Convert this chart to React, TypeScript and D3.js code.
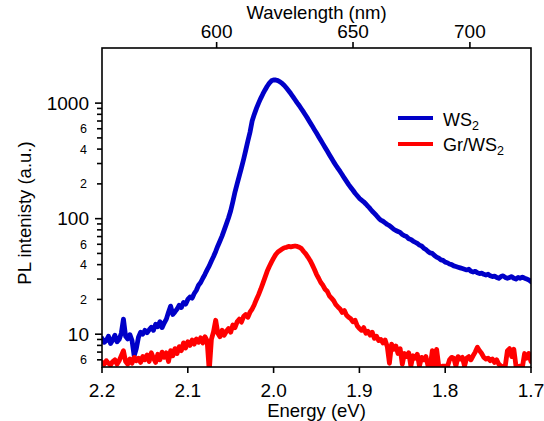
import React from "react";
import * as d3 from "d3";

// Energy grid (eV)
const energy: number[] = [
  2.2, 2.1975, 2.195, 2.1925, 2.19, 2.1875, 2.185, 2.1825, 2.18, 2.1775,
  2.175, 2.1725, 2.17, 2.1675, 2.165, 2.1625, 2.16, 2.1575, 2.155, 2.1525,
  2.15, 2.1475, 2.145, 2.1425, 2.14, 2.1375, 2.135, 2.1325, 2.13, 2.1275,
  2.125, 2.1225, 2.12, 2.1175, 2.115, 2.1125, 2.11, 2.1075, 2.105, 2.1025,
  2.1, 2.0975, 2.095, 2.0925, 2.09, 2.0875, 2.085, 2.0825, 2.08, 2.0775,
  2.075, 2.0725, 2.07, 2.0675, 2.065, 2.0625, 2.06, 2.0575, 2.055, 2.0525,
  2.05, 2.0475, 2.045, 2.0425, 2.04, 2.0375, 2.035, 2.0325, 2.03, 2.0275,
  2.025, 2.0225, 2.02, 2.0175, 2.015, 2.0125, 2.01, 2.0075, 2.005, 2.0025,
  2.0, 1.9975, 1.995, 1.9925, 1.99, 1.9875, 1.985, 1.9825, 1.98, 1.9775,
  1.975, 1.9725, 1.97, 1.9675, 1.965, 1.9625, 1.96, 1.9575, 1.955, 1.9525,
  1.95, 1.9475, 1.945, 1.9425, 1.94, 1.9375, 1.935, 1.9325, 1.93, 1.9275,
  1.925, 1.9225, 1.92, 1.9175, 1.915, 1.9125, 1.91, 1.9075, 1.905, 1.9025,
  1.9, 1.8975, 1.895, 1.8925, 1.89, 1.8875, 1.885, 1.8825, 1.88, 1.8775,
  1.875, 1.8725, 1.87, 1.8675, 1.865, 1.8625, 1.86, 1.8575, 1.855, 1.8525,
  1.85, 1.8475, 1.845, 1.8425, 1.84, 1.8375, 1.835, 1.8325, 1.83, 1.8275,
  1.825, 1.8225, 1.82, 1.8175, 1.815, 1.8125, 1.81, 1.8075, 1.805, 1.8025,
  1.8, 1.7975, 1.795, 1.7925, 1.79, 1.7875, 1.785, 1.7825, 1.78, 1.7775,
  1.775, 1.7725, 1.77, 1.7675, 1.765, 1.7625, 1.76, 1.7575, 1.755, 1.7525,
  1.75, 1.7475, 1.745, 1.7425, 1.74, 1.7375, 1.735, 1.7325, 1.73, 1.7275,
  1.725, 1.7225, 1.72, 1.7175, 1.715, 1.7125, 1.71, 1.7075, 1.705, 1.7025,
  1.7,
];

// PL intensity of WS2 (a.u.)
const ws2: number[] = [
  9.2, 8.5, 8.8, 9.6, 8.3, 8.9, 9.8, 8.6, 9.0, 10.2,
  13.5, 9.6, 9.1, 9.9, 8.8, 6.5, 7.5, 9.4, 10.4, 10.0,
  10.8, 10.3, 10.9, 11.5, 10.8, 12.2, 11.6, 12.8, 11.4, 12.5,
  13.5, 15.5, 17.5, 14.8, 15.6, 16.5, 17.8, 17.0, 18.8, 18.2,
  20.0, 21, 20.5, 22.5, 24, 26.5, 28, 30.5, 33, 36,
  39, 43, 47, 52, 58, 64, 71, 80, 90, 102,
  117, 140, 170, 200, 235, 275, 325, 390, 470, 560,
  700, 800, 900, 1000, 1100, 1200, 1300, 1400, 1490, 1560,
  1590, 1585, 1565, 1530, 1480, 1420, 1350, 1280, 1210, 1140,
  1070, 1005, 950, 890, 835, 780, 730, 680, 635, 590,
  550, 512, 477, 444, 413, 385, 358, 333, 310, 290,
  272, 256, 240, 224, 210, 197, 186, 176, 166, 158,
  150, 145, 140, 134, 128, 122, 116, 111, 106, 101,
  97, 95, 92, 89, 87, 84, 81, 79, 77.5, 76,
  73, 71, 70, 67, 66, 64, 62.5, 61, 59, 58,
  55.5, 54, 52, 50.5, 50, 48, 46.5, 45.5, 44, 43.5,
  42, 41.5, 40.5, 40, 39, 38.5, 38, 37.5, 37, 36.5,
  36, 36.5, 35, 34.5, 35, 34, 33.5, 33.8, 33, 32.5,
  33, 32, 31.5, 31.8, 31, 30.5, 31.5, 32, 31, 30.5,
  31, 31.5, 30.5, 30, 31, 30.5, 31.2, 30.5, 30, 29.5,
  28.5,
];

// PL intensity of Gr/WS2 (a.u.)
const grws2: number[] = [
  5.7, 5.5, 5.9, 5.6, 5.4, 5.8, 6.0, 5.5, 5.9, 6.5,
  7.2, 5.8, 5.5, 6.1, 5.6, 6.3, 5.9, 6.2, 5.7, 6.4,
  6.0, 6.6, 5.8, 6.9, 6.2, 5.7, 6.7, 6.0, 7.0, 6.3,
  6.9, 5.8, 7.2, 6.5, 7.5, 6.8, 7.8, 7.2, 8.4, 7.6,
  8.6, 8.0, 8.9, 8.2, 9.1, 8.5, 9.3, 8.4, 9.5, 8.8,
  4.8, 9.0, 10.5, 13.2, 10.2, 9.5, 10.8, 9.8, 10.6, 11.2,
  10.4, 12.0, 11.4, 12.8, 13.5, 12.7, 14.2, 14.8, 14.0, 15.5,
  16.5, 18, 20, 22, 24.5, 27.5, 31, 35, 38.5, 42,
  45.5, 49, 51.5, 53, 54.5, 56, 56.5, 57.5, 57, 57.5,
  58, 57.5, 56.5, 55, 52, 49.5, 46.5, 43.5, 40, 36.5,
  33, 30.5, 28, 26.5, 24.5, 23.5, 21.5, 20.5, 19.5, 18,
  17.2, 16.5, 15.4, 16.0, 14.6, 14.0, 13.6, 12.8, 13.2, 11.8,
  11.2, 10.8, 11.4, 10.2, 10.6, 9.8, 10.4, 9.2, 9.6, 8.8,
  9.0, 8.4, 8.9, 7.8, 5.6, 8.2, 7.4, 7.9, 6.8, 7.5,
  5.5, 6.8, 6.4, 6.9, 5.3, 6.5, 6.2, 6.7, 5.3, 6.3,
  6.0, 6.4, 5.3, 5.2, 7.2, 5.3, 7.4, 5.3, 5.2, 5.3,
  5.3, 5.2, 6.0, 6.3, 6.2, 5.3, 6.4, 6.1, 6.3, 5.3,
  6.2, 6.4, 6.0, 6.5, 7.0, 7.7, 7.2, 6.8, 6.3, 6.1,
  6.2, 5.9, 6.1, 5.7, 6.0, 5.5, 5.3, 5.2, 5.3, 7.2,
  7.5, 6.4, 7.4, 5.3, 5.2, 5.3, 5.2, 6.8, 6.2, 6.8,
  5.8,
];

const energyTicks: number[] = [2.2, 2.1, 2.0, 1.9, 1.8, 1.7];
const wavelengthTicks: number[] = [600, 650, 700];
const majorY: number[] = [10, 100, 1000];
const minorY: number[] = [6, 7, 8, 9, 20, 30, 40, 50, 60, 70, 80, 90, 200, 300, 400, 500, 600, 700, 800, 900];
const minorLabelled: number[] = [2, 4, 6];

const seriesNames = ["WS", "Gr/WS"];
const seriesColors = ["#0000c8", "#ff0000"];

const W = 544;
const H = 421;
const L = 102, R = 531, T = 48, B = 367;
const FONT = "'Liberation Sans', Arial, Helvetica, sans-serif";

export default function App() {
  const x = d3.scaleLinear().domain([2.2, 1.7]).range([L, R]);
  const y = d3.scaleLog().domain([5.2, 3000]).range([B, T]);
  const line = d3
    .line<number>()
    .x((_, i) => x(energy[i]))
    .y((v) => y(v));

  const fmtMinor = (v: number) => {
    const lead = Math.round(v / Math.pow(10, Math.floor(Math.log10(v))));
    return minorLabelled.includes(lead) ? String(lead) : "";
  };

  return (
    <svg
      width={W}
      height={H}
      style={{ position: "absolute", left: 0, top: 0, background: "#fff" }}
      fontFamily={FONT}
    >
      <defs>
        <clipPath id="plot">
          <rect x={L} y={T} width={R - L} height={B - T} />
        </clipPath>
      </defs>
      <g clipPath="url(#plot)" fill="none" strokeWidth={4.8} strokeLinejoin="round" strokeLinecap="round">
        <path d={line(ws2) || ""} stroke={seriesColors[0]} />
        <path d={line(grws2) || ""} stroke={seriesColors[1]} />
      </g>

      {/* frame */}
      <rect x={L} y={T} width={R - L} height={B - T} fill="none" stroke="#000" strokeWidth={1.6} />

      {/* left axis */}
      {majorY.map((v) => (
        <g key={"M" + v}>
          <line x1={L - 7} x2={L} y1={y(v)} y2={y(v)} stroke="#000" strokeWidth={1.6} />
          <text x={L - 13} y={y(v)} dy="0.36em" textAnchor="end" fontSize={19}>
            {v}
          </text>
        </g>
      ))}
      {minorY.map((v) => (
        <g key={"m" + v}>
          <line x1={L - 5} x2={L} y1={y(v)} y2={y(v)} stroke="#000" strokeWidth={1.6} />
          <text x={L - 15} y={y(v)} dy="0.36em" textAnchor="end" fontSize={12.5}>
            {fmtMinor(v)}
          </text>
        </g>
      ))}
      <text
        transform={`translate(31,${213}) rotate(-90)`}
        textAnchor="middle"
        fontSize={18.5}
      >
        PL intenisty (a.u.)
      </text>

      {/* bottom axis */}
      {energyTicks.map((v) => (
        <g key={"e" + v}>
          <line x1={x(v)} x2={x(v)} y1={B} y2={B + 6} stroke="#000" strokeWidth={1.6} />
          <text x={x(v)} y={397} textAnchor="middle" fontSize={19}>
            {v.toFixed(1)}
          </text>
        </g>
      ))}
      <text x={(L + R) / 2} y={417} textAnchor="middle" fontSize={18.5}>
        Energy (eV)
      </text>

      {/* top axis */}
      {wavelengthTicks.map((v) => (
        <g key={"w" + v}>
          <line x1={x(1239.84 / v)} x2={x(1239.84 / v)} y1={T} y2={T - 6} stroke="#000" strokeWidth={1.6} />
          <text x={x(1239.84 / v)} y={38} textAnchor="middle" fontSize={19}>
            {v}
          </text>
        </g>
      ))}
      <text x={(L + R) / 2} y={19} textAnchor="middle" fontSize={18.5}>
        Wavelength (nm)
      </text>

      {/* legend */}
      {seriesNames.map((n, i) => (
        <g key={n}>
          <line x1={398} x2={433} y1={118 + i * 26} y2={118 + i * 26} stroke={seriesColors[i]} strokeWidth={4} />
          <text x={443} y={126 + i * 25} fontSize={18}>
            {n}
            <tspan fontSize={12.5} dy={4}>2</tspan>
          </text>
        </g>
      ))}
    </svg>
  );
}
